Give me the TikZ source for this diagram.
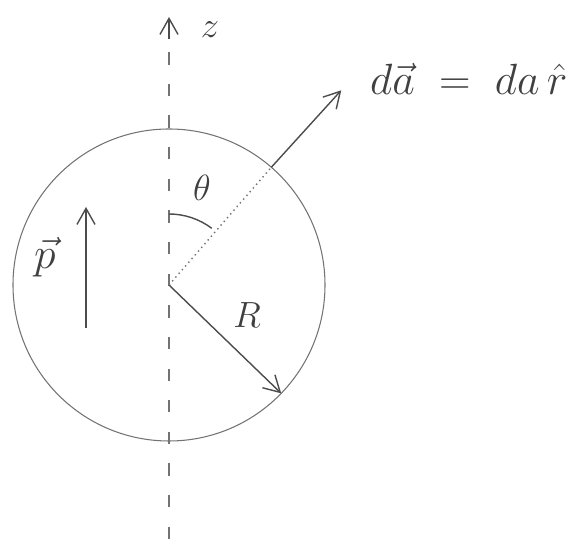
\documentclass[tikz,border=0pt]{standalone}
\usepackage{amsmath,amssymb}
\usepackage{tikz}
\usetikzlibrary{arrows.meta,calc}

\begin{document}
\begin{tikzpicture}[>={Straight Barb[length=3.2mm,width=3.6mm]},
  pen/.style={black!70,line width=0.8pt},
  hand/.style={black!75,inner sep=1pt,font=\fontsize{#1}{#1}\selectfont}]
  \useasboundingbox (-3.38,-5.08) rectangle (8.08,5.70);
  \coordinate (O) at (0,0);
  \coordinate (zbot) at (0,-5.08);
  \coordinate (ztop) at (0,5.36);
  \draw[black!55,line width=0.6pt] (O) circle (3.12);
  % z axis
  \draw[black!55,line width=0.6pt,dash pattern=on 7pt off 11pt] (zbot) -- ($(ztop)+(0,-0.55)$);
  \draw[pen,->] ($(ztop)+(0,-0.45)$) -- (ztop);
  \node[hand=20] (zlbl) at (0.82,5.1) {$z$};
  % dipole moment
  \coordinate (Pbot) at (-1.66,-0.86);
  \coordinate (Ptop) at (-1.66,1.56);
  \draw[pen,->] (Pbot) -- (Ptop);
  \node[hand=30] (plbl) at (-2.48,0.55) {$\vec{p}$};
  % radius
  \coordinate (Redge) at (-44:3.12);
  \draw[pen,->] (O) -- (Redge);
  \node[hand=21] (rlbl) at (1.56,-0.6) {$R$};
  % surface element
  \coordinate (S) at (49:3.12);
  \coordinate (T) at (48.5:5.2);
  \draw[black!55,line width=0.8pt,dotted] (O) -- (S);
  \draw[pen,->] (S) -- (T);
  \draw[pen] (90:1.42) arc (90:53:1.42);
  \node[hand=22] (thlbl) at (0.66,1.94) {$\theta$};
  \node[hand=34,anchor=west] (dalbl) at (3.98,4.12) {$d\vec{a}\;=\;da\,\hat{r}$};
\end{tikzpicture}
\end{document}
